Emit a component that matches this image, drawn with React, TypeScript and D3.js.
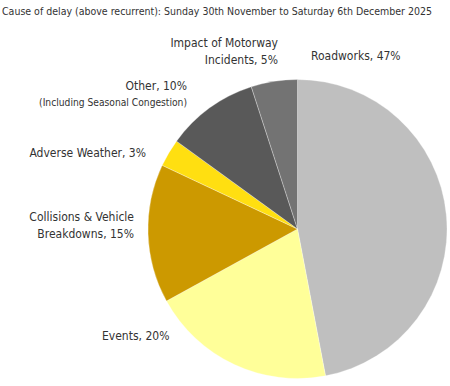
import React, { useEffect, useRef } from "react";
import * as d3 from "d3";

const categories = [
  "Roadworks",
  "Events",
  "Collisions & Vehicle Breakdowns",
  "Adverse Weather",
  "Other",
  "Impact of Motorway Incidents",
];
const values = [47, 20, 15, 3, 10, 5];
const colors = ["#bfbfbf", "#ffff99", "#cc9900", "#ffdf11", "#595959", "#737373"];

// label lines per slice
const labelLines = [
  ["Roadworks, 47%"],
  ["Events, 20%"],
  ["Collisions & Vehicle", "Breakdowns, 15%"],
  ["Adverse Weather, 3%"],
  ["Other, 10%", "(Including Seasonal Congestion)"],
  ["Impact of Motorway", "Incidents, 5%"],
];

const title = "Cause of delay (above recurrent): Sunday 30th November to Saturday 6th December 2025";

const App = () => {
  const svgRef = useRef<SVGSVGElement>(null);

  useEffect(() => {
    const width = 450;
    const height = 386;
    const cx = 297.5;
    const cy = 229;
    const radius = 149.5;
    const font = "'DejaVu Sans Condensed', sans-serif";

    const svg = d3.select(svgRef.current).attr("width", width).attr("height", height);
    svg.selectAll("*").remove();

    svg
      .append("text")
      .attr("x", 2)
      .attr("y", 15)
      .attr("font-family", font)
      .attr("font-size", 10.5)
      .attr("fill", "#333")
      .text(title);

    const pie = d3
      .pie<number>()
      .sort(null)
      .value((d) => d);
    const arc = d3.arc<d3.PieArcDatum<number>>().innerRadius(0).outerRadius(radius);

    const g = svg.append("g").attr("transform", `translate(${cx},${cy})`);
    g.selectAll("path")
      .data(pie(values))
      .enter()
      .append("path")
      .attr("d", arc)
      .attr("fill", (d, i) => colors[i])
      .attr("stroke", "#fff")
      .attr("stroke-width", 0.3);

    // label placements (x, y of first baseline, anchor)
    const placements = [
      { x: 311, y: 60, anchor: "start" },
      { x: 102, y: 340, anchor: "start" },
      { x: 134, y: 221, anchor: "end" },
      { x: 146, y: 157, anchor: "end" },
      { x: 187, y: 90, anchor: "end" },
      { x: 278, y: 47, anchor: "end" },
    ];

    categories.forEach((c, i) => {
      const p = placements[i];
      const t = svg
        .append("text")
        .attr("font-family", font)
        .attr("fill", "#333")
        .attr("text-anchor", p.anchor)
        .attr("aria-label", c);
      labelLines[i].forEach((line, j) => {
        const small = line.startsWith("(");
        t.append("tspan")
          .attr("x", p.x)
          .attr("y", p.y + j * (small ? 16 : 17))
          .attr("font-size", small ? 10.2 : 12)
          .text(line);
      });
    });
  }, []);

  return (
    <svg
      ref={svgRef}
      style={{ position: "absolute", left: 0, top: 0, background: "#fff" }}
    ></svg>
  );
};

export default App;
